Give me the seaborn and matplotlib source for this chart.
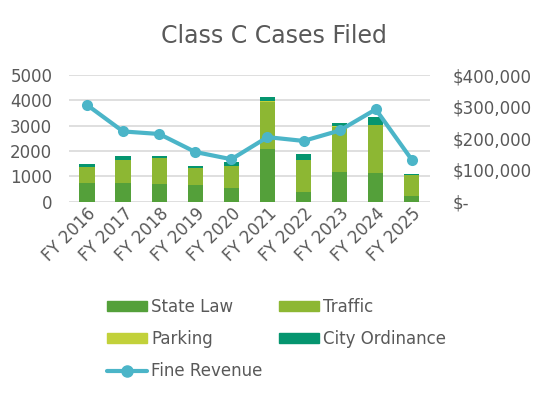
import numpy as np
import pandas as pd
import seaborn as sns
import matplotlib.pyplot as plt
from matplotlib.patches import Patch
from matplotlib.lines import Line2D
from matplotlib.ticker import FuncFormatter

years = ["FY 2016", "FY 2017", "FY 2018", "FY 2019", "FY 2020",
         "FY 2021", "FY 2022", "FY 2023", "FY 2024", "FY 2025"]
state_law = [740, 740, 700, 660, 540, 2090, 380, 1180, 1140, 225]
traffic = [620, 890, 1010, 660, 860, 1840, 1250, 1770, 1880, 810]
parking = [20, 20, 20, 15, 15, 40, 30, 25, 20, 20]
city_ord = [110, 160, 80, 80, 155, 180, 230, 145, 290, 40]
fine_revenue = [306000, 222000, 214000, 157000, 134000,
                204000, 192000, 225000, 292000, 132000]

series = ["State Law", "Traffic", "Parking", "City Ordinance"]
colors = ["#54A03A", "#8DB733", "#C2D13A", "#05956F"]
line_color = "#4BB5C8"
text_color = "#595959"

sns.set_theme(style="white")
plt.rcParams["font.family"] = ["DejaVu Sans"]

df = pd.DataFrame({"year": years, "State Law": state_law, "Traffic": traffic,
                   "Parking": parking, "City Ordinance": city_ord})

fig = plt.figure(figsize=(5.47, 4.0), dpi=100)
ax = fig.add_axes([0.126, 0.496, 0.66, 0.316])

bottom = np.zeros(len(years))
for name, col in zip(series, colors):
    sns.barplot(data=df, x="year", y=name, color=col, bottom=bottom,
                width=0.42, ax=ax, saturation=1, linewidth=0)
    bottom = bottom + df[name].values

ax.set_ylim(0, 5000)
ax.set_yticks(range(0, 5001, 1000))
ax.set_xlim(-0.5, len(years) - 0.5)
ax.grid(axis="y", color="#D9D9D9", linewidth=1.2)
ax.set_axisbelow(True)
ax.set_xlabel("")
ax.set_ylabel("")
for s in ax.spines.values():
    s.set_visible(False)
ax.tick_params(axis="y", labelsize=12, colors=text_color, length=0, pad=12)
ax.tick_params(axis="x", labelsize=12, colors=text_color, length=0, pad=2)
plt.setp(ax.get_xticklabels(), rotation=45, ha="right", rotation_mode="anchor")

ax2 = ax.twinx()
sns.lineplot(x=np.arange(len(years)), y=fine_revenue, ax=ax2, color=line_color,
             linewidth=3, marker="o", markersize=8, markeredgewidth=0)
ax2.set_ylim(0, 400000)
ax2.set_yticks(range(0, 400001, 100000))
ax2.yaxis.set_major_formatter(FuncFormatter(
    lambda v, p: "$-" if v == 0 else f"${v:,.0f}"))
ax2.tick_params(axis="y", labelsize=12, colors=text_color, length=0, pad=16)
for s in ax2.spines.values():
    s.set_visible(False)
ax2.set_ylabel("")

fig.text(0.5, 0.91, "Class C Cases Filed", ha="center", va="center",
         fontsize=17, color=text_color)

handles = [Patch(color=c) for c in colors] + [
    Line2D([], [], color=line_color, linewidth=3, marker="o", markersize=8)]
labels = series + ["Fine Revenue"]
order = [0, 2, 4, 1, 3]
leg = fig.legend([handles[i] for i in order], [labels[i] for i in order],
                 ncol=2, loc="upper left", bbox_to_anchor=(0.168, 0.293),
                 frameon=False, fontsize=12, handlelength=2.4, handleheight=0.6,
                 handletextpad=0.25, columnspacing=1.0, labelspacing=0.85)
for t in leg.get_texts():
    t.set_color(text_color)

fig.savefig("out.png", dpi=100)
